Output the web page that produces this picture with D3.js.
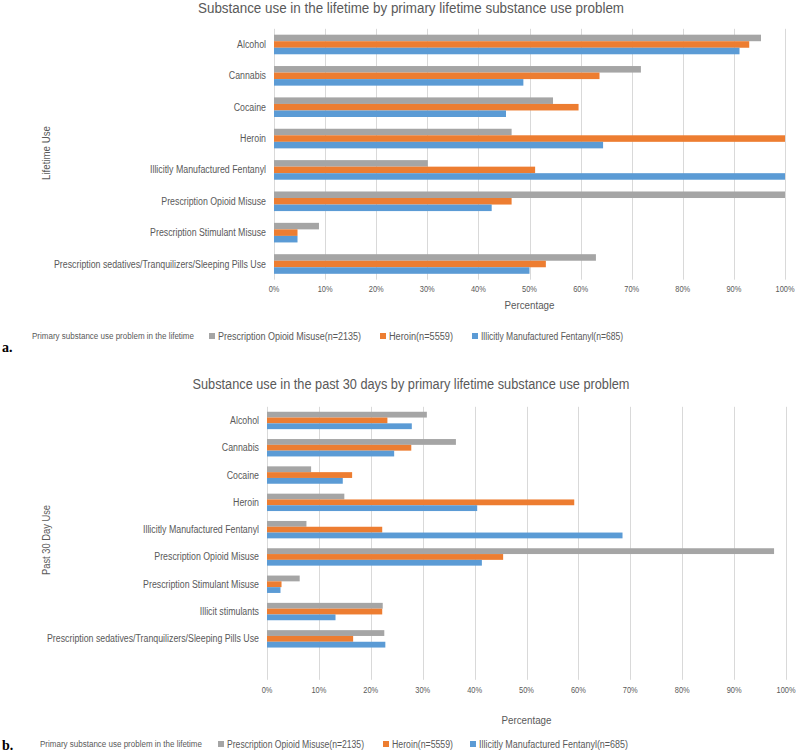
<!DOCTYPE html>
<html><head><meta charset="utf-8">
<script src="https://cdn.jsdelivr.net/npm/d3@7"></script>
<style>
html,body{margin:0;padding:0;background:#fff;}
svg{display:block;}
</style></head>
<body>
<svg id="chart" width="800" height="753"></svg>
<script>
// ---------- DATA ----------
const categoriesA = ["Alcohol","Cannabis","Cocaine","Heroin","Illicitly Manufactured Fentanyl","Prescription Opioid Misuse","Prescription Stimulant Misuse","Prescription sedatives/Tranquilizers/Sleeping Pills Use"];
const opioidA   = [95.3, 71.8, 54.6, 46.5, 30.1, 100.0, 8.8, 63.0];
const heroinA   = [93.0, 63.7, 59.6, 100.0, 51.1, 46.5, 4.6, 53.2];
const fentanylA = [91.1, 48.8, 45.4, 64.4, 100.0, 42.6, 4.6, 50.0];

const categoriesB = ["Alcohol","Cannabis","Cocaine","Heroin","Illicitly Manufactured Fentanyl","Prescription Opioid Misuse","Prescription Stimulant Misuse","Illicit stimulants","Prescription sedatives/Tranquilizers/Sleeping Pills Use"];
const opioidB   = [30.8, 36.4, 8.5, 14.9, 7.6, 97.7, 6.3, 22.3, 22.6];
const heroinB   = [23.2, 27.8, 16.4, 59.2, 22.2, 45.5, 2.8, 22.2, 16.6];
const fentanylB = [27.9, 24.5, 14.6, 40.5, 68.5, 41.4, 2.6, 13.2, 22.8];

const seriesNames = ["Prescription Opioid Misuse(n=2135)","Heroin(n=5559)","Illicitly Manufactured Fentanyl(n=685)"];
const seriesColors = ["#A5A5A5","#ED7D31","#5B9BD5"];
const xTicks = [0,10,20,30,40,50,60,70,80,90,100];
const legendTitle = "Primary substance use problem in the lifetime";
const titleA = "Substance use in the lifetime by primary lifetime substance use problem";
const titleB = "Substance use in the past 30 days by primary lifetime substance use problem";
const yTitleA = "Lifetime Use";
const yTitleB = "Past 30 Day Use";
const xTitle = "Percentage";

// ---------- DRAW ----------
const svg = d3.select("#chart");
const FONT = "'Liberation Sans','Arimo',Arial,sans-serif";
const TXT = "#595959";

// set a Calibri-like size, then squeeze horizontally to the width seen in the reference
function fitC(sel, target, size) {
  sel.attr("font-size", size);
  const w = sel.node().getComputedTextLength();
  if (w > target) sel.attr("textLength", target.toFixed(1)).attr("lengthAdjust", "spacingAndGlyphs");
  else sel.attr("font-size", (size * target / w).toFixed(2));
  return sel;
}
// squeeze a whole group by the factor found for its reference member
function fitGroup(sel, refSel, target, size) {
  sel.attr("font-size", size);
  const k = target / refSel.node().getComputedTextLength();
  sel.each(function() {
    const w = this.getComputedTextLength();
    d3.select(this).attr("textLength", (w * k).toFixed(1)).attr("lengthAdjust", "spacingAndGlyphs");
  });
}

function drawChart(cfg) {
  const g = svg.append("g");
  const x = d3.scaleLinear().domain([0,100]).range([cfg.x0, cfg.x1]);
  const y = d3.scaleBand().domain(cfg.cats).range([cfg.top, cfg.top + cfg.cats.length*cfg.band]);
  const groupH = cfg.band * cfg.groupFrac;
  const ys = d3.scaleBand().domain([0,1,2]).range([0, groupH]).paddingInner(0);

  // gridlines
  g.append("g").selectAll("line").data(xTicks).join("line")
    .attr("x1", d=>Math.round(x(d))+0.5).attr("x2", d=>Math.round(x(d))+0.5)
    .attr("y1", cfg.top).attr("y2", cfg.plotBottom)
    .attr("stroke", "#D9D9D9").attr("stroke-width", 1);

  // bars
  const series = [cfg.s0, cfg.s1, cfg.s2];
  series.forEach((vals, si) => {
    g.append("g").selectAll("rect").data(vals).join("rect")
      .attr("x", x(0))
      .attr("y", (d,i)=> y(cfg.cats[i]) + (cfg.band - groupH)/2 + ys(si))
      .attr("width", d=> x(d) - x(0))
      .attr("height", ys.bandwidth())
      .attr("fill", seriesColors[si]);
  });

  // category labels
  const labs = g.append("g").selectAll("text").data(cfg.cats).join("text")
    .attr("x", cfg.x0 - 8).attr("y", d=> y(d) + cfg.band/2)
    .attr("text-anchor","end").attr("dominant-baseline","central")
    .attr("font-family", FONT).attr("fill", TXT).text(d=>d);
  fitGroup(labs, labs.filter(d => d.startsWith("Prescription sedatives")), cfg.catW, 10);

  // x tick labels
  const tl = g.append("g").selectAll("text").data(xTicks).join("text")
    .attr("x", d=>x(d)).attr("y", cfg.tickY)
    .attr("text-anchor","middle").attr("dominant-baseline","central")
    .attr("font-family", FONT).attr("fill", TXT).text(d=> d + "%");
  fitGroup(tl, tl.filter(d=>d===100), 19, 9);

  // x title
  fitC(g.append("text").attr("x", (cfg.x0+cfg.x1)/2).attr("y", cfg.xTitleY)
    .attr("text-anchor","middle").attr("dominant-baseline","central")
    .attr("font-family", FONT).attr("fill", TXT).text(xTitle), 50, 10.5);

  // chart title
  fitC(g.append("text").attr("x", cfg.titleX).attr("y", cfg.titleY)
    .attr("text-anchor","middle").attr("dominant-baseline","central")
    .attr("font-family", FONT).attr("fill", TXT).text(cfg.title), cfg.titleW, 14);

  // y title
  fitC(g.append("text").attr("transform", `translate(${cfg.yTitleX},${cfg.yTitleY}) rotate(-90)`)
    .attr("text-anchor","middle").attr("dominant-baseline","central")
    .attr("font-family", FONT).attr("fill", TXT).text(cfg.yTitle), cfg.yTitleW, 10.5);

  // legend
  const lg = g.append("g");
  fitC(lg.append("text").attr("x", cfg.leg.x).attr("y", cfg.legY)
    .attr("dominant-baseline","central").attr("font-family", FONT).attr("fill", TXT)
    .text(legendTitle), cfg.leg.tw, 8.5);
  seriesNames.forEach((n, i) => {
    lg.append("rect").attr("x", cfg.leg.sq[i]).attr("y", cfg.legY - 3).attr("width", 6).attr("height", 6)
      .attr("fill", seriesColors[i]);
    fitC(lg.append("text").attr("x", cfg.leg.sq[i] + 9).attr("y", cfg.legY)
      .attr("dominant-baseline","central").attr("font-family", FONT).attr("fill", TXT)
      .text(n), cfg.leg.w[i], 10);
  });

  // panel letter
  svg.append("text").attr("x", 2).attr("y", cfg.letterY)
    .attr("font-family","'Liberation Serif','DejaVu Serif',serif").attr("font-weight","bold")
    .attr("font-size", 14).attr("fill","#000").text(cfg.letter);
}

drawChart({
  cats: categoriesA, s0: opioidA, s1: heroinA, s2: fentanylA,
  x0: 274, x1: 785, top: 28.8, band: 31.36, groupFrac: 0.625, plotBottom: 279.7,
  catW: 212, tickY: 289, xTitleY: 305,
  title: titleA, titleX: 411, titleY: 8, titleW: 426,
  yTitle: yTitleA, yTitleX: 46, yTitleY: 153, yTitleW: 54,
  legY: 336, leg: {x: 32, tw: 162, sq: [209, 380, 472], w: [143, 64, 142]},
  letter: "a.", letterY: 352
});

drawChart({
  cats: categoriesB, s0: opioidB, s1: heroinB, s2: fentanylB,
  x0: 267, x1: 786, top: 406.8, band: 27.3, groupFrac: 0.637, plotBottom: 679.8,
  catW: 212, tickY: 690, xTitleY: 720,
  title: titleB, titleX: 411, titleY: 384, titleW: 437,
  yTitle: yTitleB, yTitleX: 46, yTitleY: 540, yTitleW: 70,
  legY: 744, leg: {x: 40, tw: 162, sq: [218, 383, 470], w: [137, 61, 149]},
  letter: "b.", letterY: 750
});
</script>
</body></html>
